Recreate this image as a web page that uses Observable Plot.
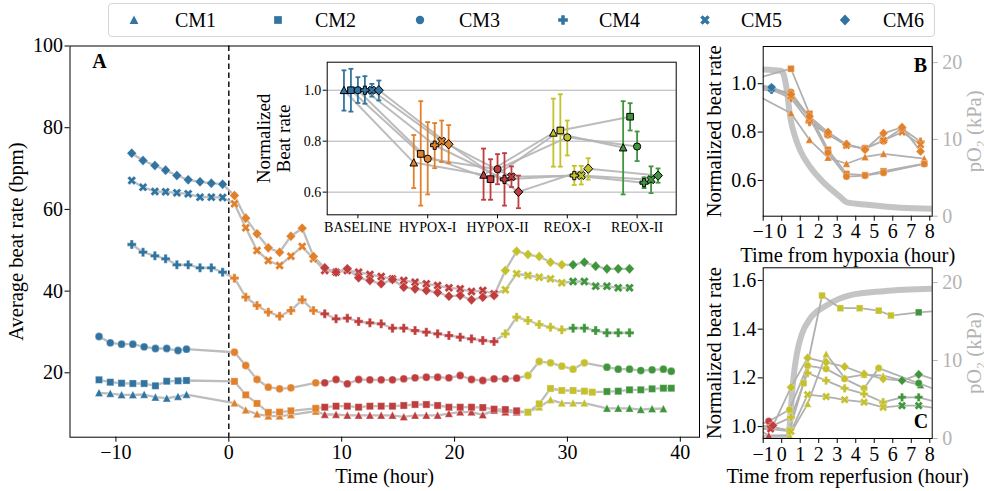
<!DOCTYPE html>
<html><head><meta charset="utf-8">
<script src="https://cdn.jsdelivr.net/npm/d3@7"></script>
<script src="https://cdn.jsdelivr.net/npm/@observablehq/plot@0.6"></script>
<style>
body{margin:0;background:#fff;}
#root{position:relative;width:984px;height:491px;overflow:hidden;font-family:"Liberation Serif",serif;background:#fff;}
</style></head><body><div id="root"></div>
<script>
// ---------------- DATA ----------------
const cmNames = ["CM1","CM2","CM3","CM4","CM5","CM6"];
const phaseNames = ["BASELINE","HYPOX-I","HYPOX-II","REOX-I","REOX-II"];
const phaseColors = ["#3274a1","#e1812c","#c03d3e","#c4c12c","#3f953b"];

// Panel A times (hours)
const tBase13 = [-11.5,-10.5,-9.5,-8.5,-7.5,-6.5,-5.5,-4.5,-3.75];
const tHypoxI13 = [0.5,1.5,2.5,3.5,4.5,5.5,7.7];
const tHypoxII13 = [8.5,9.5,10.5,11.5,12.5,13.5,14.5,15.5,16.5,17.5,18.5,19.5,20.5,21.5,22.5,23.5,24.5,25.5];
const tReoxI13 = [26.5,27.5,28.5,29.5,30.5,31.5,32.2];
const tReoxII13 = [33.5,34.5,35.5,36.5,37.5,38.5,39.2];
const tBase46 = [-8.6,-7.6,-6.55,-5.6,-4.6,-3.6,-2.55,-1.55,-0.55];
const tHypoxI46 = [0.5,1.5,2.5,3.5,4.5,5.5,6.5,7.5];
const tHypoxII46 = [8.5,9.5,10.5,11.5,12.5,13.5,14.5,15.5,16.5,17.5,18.5,19.5,20.5,21.5,22.5,23.5];
const tReoxI46 = [24.5,25.5,26.5,27.5,28.5,29.5];
const tReoxII46 = [30.5,31.5,32.5,33.5,34.5,35.5];

// Panel A beat rates (bpm)
const cm1Base = [15.10,14.93,14.61,14.61,14.69,14.03,13.78,14.20,14.69];
const cm1HypoxI = [12.6,10.9,9.9,9.4,9.4,9.7,10.6];
const cm1HypoxII = [9.8,9.8,9.6,9.6,9.6,9.6,9.6,9.2,9.6,9.6,9.6,10.0,10.4,10.4,9.7,10.8,10.4,10.4];
const cm1ReoxI = [10.4,11.6,13.4,12.6,12.6,12.6,null];
const cm1ReoxII = [11.3,11.3,11.3,11.0,11.2,11.2,null];

const cm2Base = [18.29,17.70,17.45,17.38,17.38,16.82,17.94,18.04,18.12];
const cm2HypoxI = [17.9,14.6,12.5,10.3,10.4,10.7,11.3];
const cm2HypoxII = [11.58,11.83,11.83,11.58,11.83,11.83,11.83,12.0,12.24,12.24,12.0,11.58,11.58,11.58,11.5,11.1,11.0,10.7];
const cm2ReoxI = [10.36,12.41,16.16,15.67,15.67,15.5,15.25];
const cm2ReoxII = [15.42,15.5,15.84,15.84,16.08,16.23,16.23];

const cm3Base = [28.89,27.34,27.0,27.0,26.36,25.95,25.95,25.46,25.78];
const cm3HypoxI = [25.04,21.79,18.36,16.48,16.08,16.33,17.55];
const cm3HypoxII = [17.55,18.36,17.31,18.36,18.29,18.29,18.29,18.53,18.78,18.92,18.92,18.78,19.34,18.36,18.12,18.53,18.53,18.68];
const cm3ReoxI = [19.34,22.77,22.45,21.62,20.88,22.45,null];
const cm3ReoxII = [21.37,20.88,20.88,20.56,20.73,20.88,20.39];

const cm4Base = [51.41,49.52,48.64,47.91,46.44,46.44,45.70,45.70,44.63];
const cm4HypoxI = [43.16,38.51,36.48,34.84,33.86,35.25,37.87,35.25];
const cm4HypoxII = [34.44,33.22,33.37,32.56,32.24,32.0,30.92,30.92,30.35,29.94,29.55,29.13,28.71,28.32,27.91,27.66];
const cm4ReoxI = [29.55,33.61,32.80,31.82,31.16,30.53];
const cm4ReoxII = [30.92,30.92,30.35,29.79,29.79,29.79];

const cm5Base = [67.08,65.44,64.38,64.31,64.06,63.82,62.99,62.99,62.91];
const cm5HypoxI = [61.37,55.50,49.94,47.49,46.27,48.54,50.92,47.91];
const cm5HypoxII = [45.04,44.63,45.04,44.63,44.06,43.57,43.0,42.59,42.18,41.79,41.37,40.81,40.56,39.9,40.15,39.34];
const cm5ReoxI = [40.32,44.24,43.82,43.40,43.01,42.03];
const cm5ReoxII = [42.35,42.35,41.20,41.20,40.81,40.81];

const cm6Base = [73.76,71.97,70.75,69.6,68.3,67.25,66.76,66.41,66.17];
const cm6HypoxI = [63.40,57.85,54.03,50.60,49.52,53.44,55.40,48.47];
const cm6HypoxII = [45.70,44.63,45.46,43.26,42.59,41.79,42.84,40.96,40.56,40.15,39.66,38.75,38.92,37.87,38.51,38.92];
const cm6ReoxI = [45.04,49.77,48.96,48.47,47.07,46.44];
const cm6ReoxII = [46.44,47.07,46.10,45.46,45.46,45.46];

// Inset: normalized beat rate per phase (mean, lower, upper)
const cm1Mean = [1.0,0.716,0.668,0.833,0.775], cm1Lo = [0.920,0.616,0.570,0.700,0.591], cm1Hi = [1.078,0.824,0.771,0.967,0.957];
const cm2Mean = [1.0,0.750,0.651,0.842,0.896], cm2Lo = [0.916,0.547,0.570,0.700,0.842], cm2Hi = [1.084,0.957,0.729,0.984,0.949];
const cm3Mean = [1.0,0.731,0.690,0.815,0.779], cm3Lo = [0.950,0.591,0.631,0.744,0.722], cm3Hi = [1.051,0.875,0.749,0.881,0.838];
const cm4Mean = [1.0,0.784,0.650,0.665,0.637], cm4Lo = [0.947,0.694,0.547,0.628,0.616], cm4Hi = [1.055,0.871,0.753,0.703,0.658];
const cm5Mean = [1.0,0.800,0.660,0.665,0.649], cm5Lo = [0.975,0.718,0.620,0.630,0.596], cm5Hi = [1.025,0.881,0.701,0.703,0.701];
const cm6Mean = [1.0,0.788,0.601,0.692,0.665], cm6Lo = [0.960,0.714,0.537,0.649,0.637], cm6Hi = [1.038,0.863,0.665,0.733,0.693];
const insetDodge = [-0.2,-0.1,0,0.1,0.2,0.3];

// Panel B: time from hypoxia, normalized beat rate
const tB13 = [-3.75,0.5,1.5,2.5,3.5,4.5,5.5,7.7];
const tB46 = [-1.55,-0.55,0.5,1.5,2.5,3.5,4.5,5.5,6.5,7.5];
const bCM1 = [1.05,0.878,0.768,0.694,0.669,0.697,0.71,0.69];
const bCM2 = [0.97,1.062,0.876,0.727,0.627,0.622,0.638,0.669];
const bCM3 = [0.99,0.965,0.86,0.715,0.616,0.62,0.632,0.668];
const bCM4 = [0.99,0.975,0.94,0.841,0.79,0.75,0.73,0.765,0.815,0.76];
const bCM5 = [0.995,0.98,0.95,0.857,0.79,0.745,0.732,0.765,0.80,0.748];
const bCM6 = [1.0,0.985,0.955,0.865,0.80,0.749,0.728,0.795,0.82,0.72];
const o2B_t = [-1.0,0.0,0.28,0.46,0.73,1.0,1.54,2.26,3.17,3.53,4.61,6.42,8.13];
const o2B_v = [19.1,18.9,16.4,12.9,10.3,8.57,6.4,4.4,2.5,1.8,1.5,1.1,0.96];

// Panel C: time from reperfusion, normalized beat rate
const tC1 = [-1.5,-0.7,0.42,1.4,2.4,3.4,4.45,5.48,7.5];
const cCM1 = [1.0,0.963,0.963,1.093,1.298,1.20,1.213,1.209,1.17];
const tC2 = [-1.5,-0.6,0.42,1.18,2.18,3.17,4.21,5.24,5.9,7.4,8.4];
const cCM2 = [1.0,1.0,0.984,1.178,1.538,1.486,1.486,1.476,1.456,1.469,1.475];
const tC3 = [-1.5,-0.7,0.42,1.4,2.4,3.4,4.45,5.24,7.4,8.4];
const cCM3 = [1.0,1.022,1.069,1.25,1.237,1.196,1.157,1.24,1.178,1.15];
const tC4 = [-1.5,-0.6,0.5,1.4,2.4,3.4,4.45,5.48,6.5,7.4,8.4];
const cCM4 = [1.0,1.0,1.038,1.22,1.189,1.157,1.134,1.10,1.12,1.12,1.10];
const tC5 = [-1.5,-0.6,0.5,1.4,2.4,3.4,4.45,5.48,6.5,7.4,8.4];
const cCM5 = [0.99,0.99,0.98,1.131,1.123,1.110,1.10,1.079,1.086,1.086,1.075];
const tC6 = [-1.5,-0.47,0.5,1.4,2.4,3.4,4.45,5.48,6.5,7.4,8.4];
const cCM6 = [1.0,1.004,1.161,1.282,1.264,1.246,1.216,1.196,1.189,1.214,1.19];
const o2C_t = [-1.0,0.2,0.37,0.5,0.64,0.82,1.09,1.54,2.44,3.71,5.51,8.13];
const o2C_v = [0.1,0.15,0.35,4.0,7.85,10.9,13.4,15.4,17.1,18.4,18.9,19.2];

// ---------------- SYMBOLS ----------------
function poly(c, pts){ pts.forEach(([x,y],i)=> i? c.lineTo(x,y) : c.moveTo(x,y)); c.closePath(); }
function cross(c, r, w, a){
  const p=[[-w,-r],[w,-r],[w,-w],[r,-w],[r,w],[w,w],[w,r],[-w,r],[-w,w],[-r,w],[-r,-w],[-w,-w]];
  const co=Math.cos(a), si=Math.sin(a);
  poly(c, p.map(([x,y])=>[x*co-y*si, x*si+y*co]));
}
const symTriangle = {draw(c,size){const r=Math.sqrt(size/Math.PI)*1.05; poly(c,[[0,-r],[r,r*0.9],[-r,r*0.9]]);}};
const symSquare = {draw(c,size){const r=Math.sqrt(size/Math.PI)*0.92; c.rect(-r,-r,2*r,2*r);}};
const symCircle = {draw(c,size){const r=Math.sqrt(size/Math.PI); c.moveTo(r,0); c.arc(0,0,r,0,2*Math.PI);}};
const symPlus = {draw(c,size){const s=Math.sqrt(size/Math.PI); cross(c,s*1.15,s*0.42,0);}};
const symTimes = {draw(c,size){const s=Math.sqrt(size/Math.PI); cross(c,s*1.2,s*0.4,Math.PI/4);}};
const symDiamond = {draw(c,size){const r=Math.sqrt(size/Math.PI)*1.3; poly(c,[[0,-r],[r*0.95,0],[0,r],[-r*0.95,0]]);}};
const cmSymbols = [symTriangle,symSquare,symCircle,symPlus,symTimes,symDiamond];

// ---------------- TABLES ----------------
const times13 = [tBase13,tHypoxI13,tHypoxII13,tReoxI13,tReoxII13];
const times46 = [tBase46,tHypoxI46,tHypoxII46,tReoxI46,tReoxII46];
const mainSeries = [
  [times13,[cm1Base,cm1HypoxI,cm1HypoxII,cm1ReoxI,cm1ReoxII]],
  [times13,[cm2Base,cm2HypoxI,cm2HypoxII,cm2ReoxI,cm2ReoxII]],
  [times13,[cm3Base,cm3HypoxI,cm3HypoxII,cm3ReoxI,cm3ReoxII]],
  [times46,[cm4Base,cm4HypoxI,cm4HypoxII,cm4ReoxI,cm4ReoxII]],
  [times46,[cm5Base,cm5HypoxI,cm5HypoxII,cm5ReoxI,cm5ReoxII]],
  [times46,[cm6Base,cm6HypoxI,cm6HypoxII,cm6ReoxI,cm6ReoxII]]
];
const mainPts = mainSeries.flatMap(([ts, vs], i) => vs.flatMap((arr, p) => arr.map((v, j) => ({cm: cmNames[i], t: ts[p][j], v, color: phaseColors[p]})))).filter(d => d.v != null);

const insetStats = [[cm1Mean,cm1Lo,cm1Hi],[cm2Mean,cm2Lo,cm2Hi],[cm3Mean,cm3Lo,cm3Hi],[cm4Mean,cm4Lo,cm4Hi],[cm5Mean,cm5Lo,cm5Hi],[cm6Mean,cm6Lo,cm6Hi]];
const insetPts = insetStats.flatMap(([m,lo,hi], i) => m.map((v, j) => ({cm: cmNames[i], x: j + insetDodge[i], v, lo: lo[j], hi: hi[j], color: phaseColors[j]})));

const bSeries = [[tB13,bCM1],[tB13,bCM2],[tB13,bCM3],[tB46,bCM4],[tB46,bCM5],[tB46,bCM6]];
const bPts = bSeries.flatMap(([ts, vs], i) => vs.map((v, j) => ({cm: cmNames[i], t: ts[j], v, color: ts[j] < 0 ? phaseColors[0] : phaseColors[1]})));
const cSeries = [[tC1,cCM1],[tC2,cCM2],[tC3,cCM3],[tC4,cCM4],[tC5,cCM5],[tC6,cCM6]];
const cPts = cSeries.flatMap(([ts, vs], i) => vs.map((v, j) => ({cm: cmNames[i], t: ts[j], v, color: ts[j] < 0 ? phaseColors[2] : ts[j] < 6.2 ? phaseColors[3] : phaseColors[4]})));
const o2B = o2B_t.map((t, i) => ({t, v: o2B_v[i]}));
const o2C = o2C_t.map((t, i) => ({t, v: o2C_v[i]}));

// ---------------- RENDER ----------------
const FONT = "Liberation Serif";
const fmt = d3.format("");
const root = document.getElementById("root");
function place(el, left, top){ el.style.position="absolute"; el.style.left=left+"px"; el.style.top=top+"px"; root.appendChild(el); }
const st = (extra={}) => ({fontFamily: FONT, fontSize: "20px", background: "transparent", overflow: "visible", color: "black", maxWidth: "none", ...extra});

function dotsFor(pts, r, key, opts) {
  return cmNames.map((n, i) => Plot.dot(pts.filter(d => d.cm === n), {x: key, y: "v", symbol: cmSymbols[i], r, fill: "color", ...opts}));
}

// Main panel A
const mainPlot = Plot.plot({
  width: 710, height: 491,
  marginLeft: 69.5, marginRight: 11, marginTop: 45.5, marginBottom: 54.3,
  style: st(),
  color: {type: "identity"},
  x: {domain: [-14.07, 41.7], ticks: [-10,0,10,20,30,40], tickFormat: fmt, tickSize: 5, tickPadding: 3, label: null},
  y: {domain: [4.24, 100], ticks: [20,40,60,80,100], tickSize: 5, tickPadding: 2, label: null},
  marks: [
    Plot.ruleX([0], {stroke: "black", strokeWidth: 1.4, strokeDasharray: "5.5,3.5"}),
    Plot.line(mainPts, {x: "t", y: "v", z: "cm", stroke: "#bdbdbd", strokeWidth: 2.3}),
    ...dotsFor(mainPts, 3.9, "t", {stroke: "white", strokeOpacity: 0.45, strokeWidth: 0.8}),
    Plot.frame({stroke: "black"}),
    Plot.text(["A"], {frameAnchor: "top-left", dx: 29.5, dy: 15.5, fontWeight: "bold", fontSize: 20, lineAnchor: "middle", textAnchor: "middle"}),
    Plot.text(["Average beat rate (bpm)"], {frameAnchor: "left", dx: -54, rotate: -90, fontSize: 20.5, lineAnchor: "middle", textAnchor: "middle"}),
    Plot.text(["Time (hour)"], {frameAnchor: "bottom", dy: 39.3, fontSize: 20.5, lineAnchor: "middle"})
  ]
});
place(mainPlot, 0, 0);

// Inset
const capW = 0.035;
const inset = Plot.plot({
  width: 450, height: 190,
  marginLeft: 90.7, marginRight: 10.3, marginTop: 9.7, marginBottom: 27.7,
  style: st({fontSize: "14px"}),
  color: {type: "identity"},
  x: {domain: [-0.44, 4.56], ticks: [0,1,2,3,4], tickFormat: i => phaseNames[i], tickSize: 4, tickPadding: 3, label: null},
  y: {domain: [0.511, 1.11], ticks: [0.6,0.8,1.0], tickFormat: d3.format(".1f"), tickSize: 4, tickPadding: 2, label: null},
  marks: [
    Plot.frame({fill: "white", stroke: "none"}),
    Plot.ruleY([0.6,0.8,1.0], {stroke: "#b0b0b0", strokeWidth: 1}),
    Plot.line(insetPts, {x: "x", y: "v", z: "cm", stroke: "#b5b5b5", strokeWidth: 2, strokeOpacity: 0.9}),
    Plot.ruleX(insetPts, {x: "x", y1: "lo", y2: "hi", stroke: "color", strokeWidth: 1.8}),
    Plot.link(insetPts, {x1: d => d.x - capW, x2: d => d.x + capW, y1: "lo", y2: "lo", stroke: "color", strokeWidth: 1.8}),
    Plot.link(insetPts, {x1: d => d.x - capW, x2: d => d.x + capW, y1: "hi", y2: "hi", stroke: "color", strokeWidth: 1.8}),
    ...dotsFor(insetPts, 3.6, "x", {stroke: "black", strokeWidth: 1}),
    Plot.frame({stroke: "black"}),
    Plot.text(["Normalized"], {frameAnchor: "left", dx: -63.7, rotate: -90, fontSize: 19, lineAnchor: "middle", textAnchor: "middle"}),
    Plot.text(["Beat rate"], {frameAnchor: "left", dx: -43.7, rotate: -90, fontSize: 19, lineAnchor: "middle", textAnchor: "middle"})
  ]
});
place(inset, 236, 52);

// Panel B and C helpers
function sidePanel({top, h, mT, mB, yDom, yTicks, pts, o2, o2Dom, letter, letterAnchor, letterDx, letterDy, xlabel, xlDy}) {
  const common = {width: 294, height: h, marginLeft: 72.7, marginRight: 52.3, marginTop: mT, marginBottom: mB};
  const xDom = [-1.0, 8.13];
  const o2Plot = Plot.plot({
    ...common,
    style: st({color: "#b3b3b3"}),
    x: {domain: xDom, axis: null},
    y: {domain: o2Dom, axis: "right", ticks: [0,10,20], tickSize: 5, tickPadding: 5, label: null},
    marks: [
      Plot.line(o2, {x: "t", y: "v", stroke: "#c4c4c4", strokeWidth: 6, curve: "monotone-x", clip: true}),
      Plot.text(["pO₂ (kPa)"], {frameAnchor: "right", dx: 42.3, rotate: -90, fontSize: 20.5, fill: "#b3b3b3", lineAnchor: "middle", textAnchor: "middle"})
    ]
  });
  place(o2Plot, 690, top);
  const inDom = pts.filter(d => d.t >= xDom[0] && d.t <= xDom[1]);
  const p = Plot.plot({
    ...common,
    style: st(),
    color: {type: "identity"},
    x: {domain: xDom, ticks: d3.range(-1, 9), tickFormat: fmt, tickSize: 5, tickPadding: 3, label: null},
    y: {domain: yDom, ticks: yTicks, tickFormat: d3.format(".1f"), tickSize: 5, tickPadding: 2, label: null},
    marks: [
      Plot.line(pts, {x: "t", y: "v", z: "cm", stroke: "#b0b0b0", strokeWidth: 1.8, clip: true}),
      ...dotsFor(inDom, 3.6, "t", {stroke: "white", strokeOpacity: 0.4, strokeWidth: 0.7}),
      Plot.frame({stroke: "black"}),
      Plot.text([letter], {frameAnchor: letterAnchor, dx: letterDx, dy: letterDy, fontWeight: "bold", fontSize: 20, lineAnchor: "middle", textAnchor: "middle"}),
      Plot.text(["Normalized beat rate"], {frameAnchor: "left", dx: -48.7, rotate: -90, fontSize: 20.5, lineAnchor: "middle", textAnchor: "middle"}),
      Plot.text([xlabel], {frameAnchor: "bottom", dy: xlDy, fontSize: 20.5, lineAnchor: "middle"})
    ]
  });
  place(p, 690, top);
}

sidePanel({top: 30, h: 240, mT: 16, mB: 54.3, yDom: [0.452, 1.154], yTicks: [0.6,0.8,1.0], pts: bPts, o2: o2B, o2Dom: [0, 22.1],
  letter: "B", letterAnchor: "top-right", letterDx: -11.7, letterDy: 19, xlabel: "Time from hypoxia (hour)", xlDy: 39.3});
sidePanel({top: 255, h: 236, mT: 12.3, mB: 53, yDom: [0.951, 1.652], yTicks: [1.0,1.2,1.4,1.6], pts: cPts, o2: o2C, o2Dom: [0, 21.9],
  letter: "C", letterAnchor: "bottom-right", letterDx: -11.3, letterDy: -17, xlabel: "Time from reperfusion (hour)", xlDy: 38});

// Legend
const legBox = document.createElement("div");
legBox.style.cssText = "box-sizing:border-box;width:827px;height:34px;border:1px solid #d6d6d6;border-radius:4px;background:#fff;";
place(legBox, 108, 3);
const legSymX = [134, 278, 420, 563, 705, 845];
const legTextX = [175, 315, 459, 599, 741, 883];
cmNames.forEach((n, i) => {
  const svg = d3.create("svg").attr("width", 20).attr("height", 20);
  svg.append("path").attr("transform", "translate(10,10)")
    .attr("d", d3.symbol(cmSymbols[i], Math.PI * 4.2 * 4.2)()).attr("fill", phaseColors[0]);
  place(svg.node(), legSymX[i] - 10, 10);
  const t = document.createElement("div");
  t.textContent = n;
  t.style.cssText = "font-family:'Liberation Serif',serif;font-size:20px;line-height:20px;white-space:nowrap;";
  place(t, legTextX[i], 10);
});
</script></body></html>
